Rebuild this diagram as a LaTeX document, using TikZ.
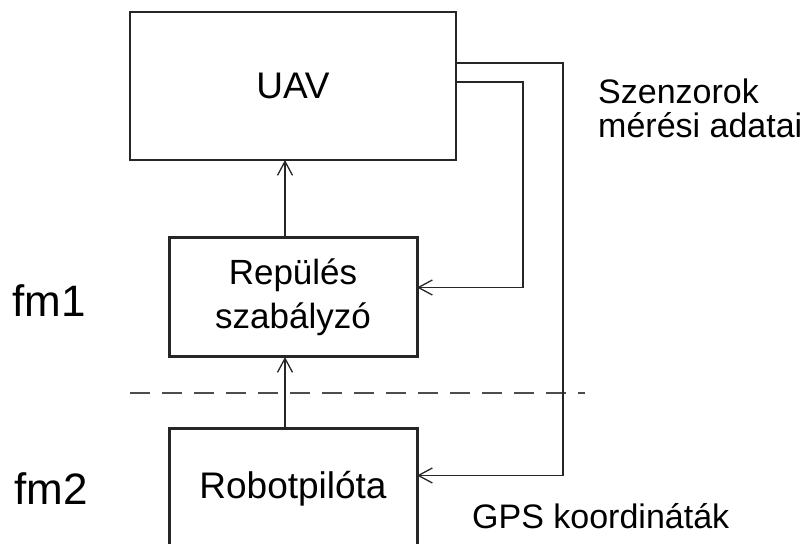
\documentclass[tikz,border=0pt]{standalone}
\usepackage{fontspec}
\setmainfont{Liberation Sans}
\usetikzlibrary{arrows.meta,positioning}

\begin{document}
\begin{tikzpicture}[
    x=1pt, y=1pt,
    >={Straight Barb[length=14pt,width=15pt]},
    font=\fontsize{35}{44}\selectfont,
    box/.style={draw=black!85, align=center, inner sep=0pt, outer sep=0pt},
    plant/.style={box, line width=1.3pt, minimum width=326pt, minimum height=148pt,
      font=\fontsize{37}{44}\selectfont},
    ctrl/.style={box, line width=3pt, minimum width=248pt, minimum height=119pt},
    flow/.style={->, draw=black!85, line width=1.3pt},
    sep/.style={draw=black!70, line width=1.3pt, dash pattern=on 20pt off 12pt},
    lbl/.style={anchor=base west, inner sep=0pt, font=\fontsize{34}{34}\selectfont},
    lvl/.style={lbl, font=\fontsize{44}{44}\selectfont},
  ]
  \clip (0,0) rectangle (812,544);

  % Blocks
  \node[plant] (uav) at (293, 458) {UAV};
  \node[ctrl, below=78pt of uav] (rep) {Repülés\\szabályzó};
  \node[ctrl, below=72pt of rep, font=\fontsize{37}{44}\selectfont] (robot) {Robotpilóta};

  % Level separator
  \coordinate (sepl) at (130, 151);
  \coordinate (sepr) at (585, 151);
  \draw[sep] (sepl) -- (sepr);

  % Levels
  \node[lvl] (fm1) at (12, 227) {fm1};
  \node[lvl] (fm2) at (14, 39) {fm2};

  % Signal labels
  \node[lbl] (sens) at (598, 440) {Szenzorok};
  \node[lbl] (meas) at (598, 406) {mérési adatai};
  \node[lbl] (gps) at (472, 15) {GPS koordináták};

  % Edges
  \draw[flow] ([xshift=-8pt]rep.north) -- ([xshift=-8pt]uav.south);
  \draw[flow] ([xshift=-8pt]robot.north) -- ([xshift=-8pt]rep.south);
  \draw[flow] ([yshift=4pt]uav.east) -- ++(67, 0) |- ([yshift=10pt]rep.east);
  \draw[flow] ([yshift=23pt]uav.east) -- ++(107, 0) |- ([yshift=13pt]robot.east);
\end{tikzpicture}
\end{document}
